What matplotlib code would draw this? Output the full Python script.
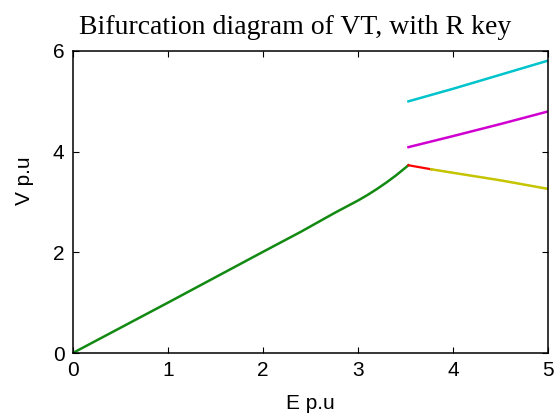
import matplotlib
matplotlib.use("Agg")
import matplotlib.pyplot as plt

# Stable branch (green)
E_green = [0.0, 1.0, 2.0, 2.4, 2.75, 3.0, 3.1, 3.2, 3.3, 3.4, 3.53]
V_green = [0.0, 1.0, 2.01, 2.41, 2.78, 3.03, 3.14, 3.26, 3.39, 3.53, 3.73]
# Red segment
E_red = [3.53, 3.77]
V_red = [3.73, 3.65]
# Yellow branch
E_yel = [3.77, 4.0, 4.5, 5.0]
V_yel = [3.65, 3.58, 3.43, 3.26]
# Magenta branch
E_mag = [3.53, 4.0, 4.5, 5.0]
V_mag = [4.09, 4.31, 4.55, 4.80]
# Cyan branch
E_cyan = [3.53, 4.0, 4.5, 5.0]
V_cyan = [5.00, 5.25, 5.53, 5.81]

xticks = [0, 1, 2, 3, 4, 5]
yticks = [0, 2, 4, 6]

fig = plt.figure(figsize=(5.56, 4.18), dpi=100)
ax = fig.add_axes([0.131, 0.1555, 0.855, 0.7225])
ax.plot(E_green, V_green, color="#128a12", lw=1.8)
ax.plot(E_red, V_red, color="#ff0000", lw=1.6)
ax.plot(E_yel, V_yel, color="#c4c400", lw=1.8)
ax.plot(E_mag, V_mag, color="#d000d0", lw=1.8)
ax.plot(E_cyan, V_cyan, color="#00c4cc", lw=1.8)

ax.set_xlim(0, 5)
ax.set_ylim(0, 6)
ax.set_xticks(xticks)
ax.set_yticks(yticks)
ax.tick_params(direction="in", top=True, right=True, length=4, labelsize=15, pad=6)
for lab in ax.get_xticklabels() + ax.get_yticklabels():
    lab.set_family("Liberation Sans")
for s in ax.spines.values():
    s.set_linewidth(1.1)
ax.set_xlabel("E p.u", fontsize=15, family="Liberation Sans", labelpad=10)
ax.set_ylabel("V p.u", fontsize=15, family="Liberation Sans")
ax.yaxis.set_label_coords(-0.082, 0.57)
ax.set_title("Bifurcation diagram of VT, with R key", fontsize=20,
             family="Liberation Serif", pad=12, x=0.467)
fig.savefig("out.png", dpi=100)
